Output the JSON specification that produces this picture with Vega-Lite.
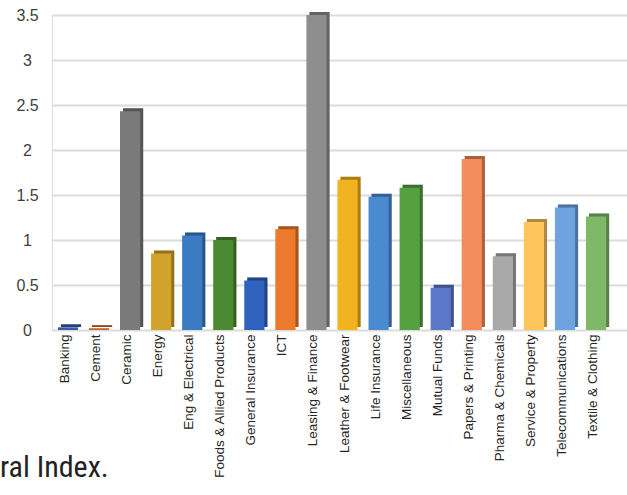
{
  "$schema": "https://vega.github.io/schema/vega-lite/v6.json",
  "width": 575,
  "height": 315,
  "autosize": {"type": "none"},
  "padding": {"left": 52, "top": 15, "right": 0, "bottom": 165},
  "background": "white",
  "title": {
    "text": "ral Index.",
    "orient": "bottom",
    "anchor": "start",
    "frame": "group",
    "font": "Roboto Condensed, Liberation Sans Narrow, DejaVu Sans Condensed, Roboto",
    "fontSize": 30,
    "fontWeight": "normal",
    "color": "#222222",
    "baseline": "alphabetic",
    "dx": -52,
    "dy": -5
  },
  "data": {
    "values": [
      {"Sector": "Banking", "Value": 0.03},
      {"Sector": "Cement", "Value": 0.02},
      {"Sector": "Ceramic", "Value": 2.43},
      {"Sector": "Energy", "Value": 0.85},
      {"Sector": "Eng & Electrical", "Value": 1.05},
      {"Sector": "Foods & Allied Products", "Value": 1.0},
      {"Sector": "General Insurance", "Value": 0.55},
      {"Sector": "ICT", "Value": 1.12},
      {"Sector": "Leasing & Finance", "Value": 3.5},
      {"Sector": "Leather & Footwear", "Value": 1.67},
      {"Sector": "Life Insurance", "Value": 1.48},
      {"Sector": "Miscellaneous", "Value": 1.58},
      {"Sector": "Mutual Funds", "Value": 0.47},
      {"Sector": "Papers & Printing", "Value": 1.9},
      {"Sector": "Pharma & Chemicals", "Value": 0.82},
      {"Sector": "Service & Property", "Value": 1.2},
      {"Sector": "Telecommunications", "Value": 1.36},
      {"Sector": "Textile & Clothing", "Value": 1.26}
    ]
  },
  "encoding": {
    "x": {
      "field": "Sector",
      "type": "nominal",
      "sort": null,
      "scale": {"paddingInner": 0.35, "paddingOuter": 0.43, "align": 0.22},
      "axis": {
        "title": null,
        "labelAngle": -90,
        "labelAlign": "right",
        "labelBaseline": "middle",
        "labelFont": "Liberation Sans",
        "labelFontSize": 13.5,
        "labelColor": "#262626",
        "labelPadding": 4,
        "labelOffset": -3,
        "ticks": false,
        "tickSize": 0,
        "domain": false,
        "grid": false
      }
    },
    "y": {
      "field": "Value",
      "type": "quantitative",
      "scale": {"domain": [0, 3.5], "nice": false},
      "axis": {
        "title": null,
        "values": [0, 0.5, 1, 1.5, 2, 2.5, 3, 3.5],
        "format": "~g",
        "labelFont": "Liberation Sans",
        "labelFontSize": 16,
        "labelColor": "#404040",
        "labelAlign": "center",
        "labelPadding": 25,
        "ticks": false,
        "tickSize": 0,
        "domain": false,
        "grid": true,
        "gridColor": "#dcdcdc",
        "gridWidth": 2
      }
    },
    "color": {
      "field": "Sector",
      "type": "nominal",
      "sort": null,
      "legend": null,
      "scale": {
        "domain": ["Banking", "Cement", "Ceramic", "Energy", "Eng & Electrical", "Foods & Allied Products", "General Insurance", "ICT", "Leasing & Finance", "Leather & Footwear", "Life Insurance", "Miscellaneous", "Mutual Funds", "Papers & Printing", "Pharma & Chemicals", "Service & Property", "Telecommunications", "Textile & Clothing"],
        "range": ["#3a5aa8", "#c8642a", "#7a7a7a", "#d2a22c", "#3b7bc4", "#4b8a33", "#2f62bd", "#ec7a2c", "#8e8e8e", "#f2b320", "#4a8bd0", "#55a040", "#5b78c8", "#f48b5c", "#a9a9a9", "#fdc55c", "#6ea3e0", "#7fb866"]
      }
    }
  },
  "layer": [
    {"mark": {"type": "bar", "xOffset": 3, "yOffset": -3}},
    {"mark": {"type": "bar", "xOffset": 3, "yOffset": -3, "color": "black", "opacity": 0.3}, "encoding": {"color": {"value": "black"}}},
    {"mark": {"type": "bar"}}
  ]
}
